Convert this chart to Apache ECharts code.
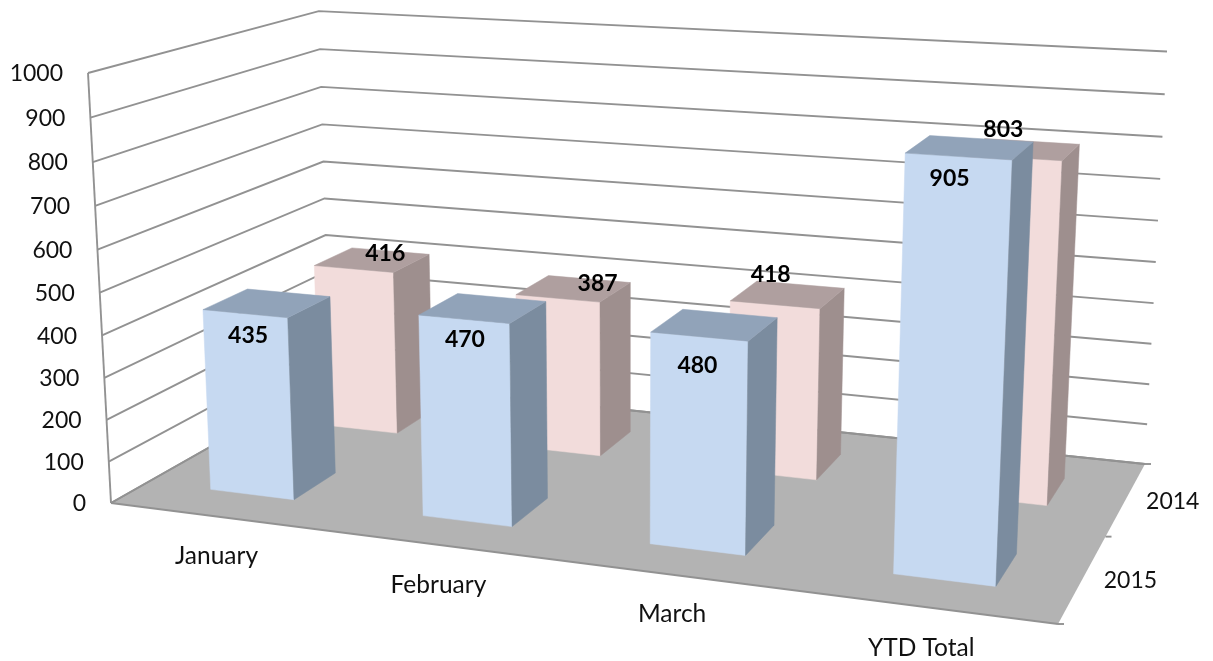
<!DOCTYPE html>
<html><head><meta charset="utf-8">
<style>html,body{margin:0;padding:0;background:#fff}#c{width:1213px;height:661px}</style>
<script src="https://cdn.jsdelivr.net/npm/echarts@6/dist/echarts.min.js"></script>
</head><body><div id="c"></div>
<script>
const categories = ['January','February','March','YTD Total'];
const depthNames = ['2015','2014'];
const values2015 = [435,470,480,905];
const values2014 = [416,387,418,803];
const yTicks = [0,100,200,300,400,500,600,700,800,900,1000];

// layout of the 3D box: floor corners in pixels (front-left, front-right, back-right, back-left),
// top of the value axis above the front-left corner, and the vertical perspective term
const FLOOR = [[111,503],[1058,624],[1145,464],[330,379]];
const AXIS_TOP = [88,73];
const VERTICAL_PERSPECTIVE = -0.0426;
const BAR_HALF = 0.2;
const BAR_SHIFT = 0.005;
const SLOT = [[0.15,0.34],[0.65,0.84]];
const FONT = 'Lato, sans-serif';
const LABEL_SIZE = 23;
const CAT_SIZE = 24.5;
const GRID = {left:100,top:100,width:800,height:400};
const COLORS = [
  {front:'#C6D9F1',top:'#91A3B9',side:'#7B8C9F'},
  {front:'#F2DCDB',top:'#AF9F9F',side:'#9E8F8E'}
];
const valueLabelShift = [
  [[-18,33],[-17,31],[-16,41],[-19,31]],
  [[14,-6],[25,-5],[-16,-20],[-18,-20]]
];
const catLabelShift = [[1,40],[3,41],[1,40],[-3,41]];
const depthLabelShift = [[48,1],[47,2]];

// projective map from chart space (u along categories, w into depth, t up the value axis) to pixels
const project = (function(){
  const [[x0,y0],[x1,y1],[x2,y2],[x3,y3]] = FLOOR;
  const dx1=x1-x2,dx2=x3-x2,sx=x0-x1+x2-x3,dy1=y1-y2,dy2=y3-y2,sy=y0-y1+y2-y3;
  const den=dx1*dy2-dx2*dy1;
  const g=(sx*dy2-dx2*sy)/den,h=(dx1*sy-sx*dy1)/den;
  const a=x1-x0+g*x1,b=x3-x0+h*x3,d=y1-y0+g*y1,e=y3-y0+h*y3;
  const i=VERTICAL_PERSPECTIVE;
  const c=AXIS_TOP[0]*(1+i)-x0,f=AXIS_TOP[1]*(1+i)-y0;
  return (u,w,t)=>{const k=g*u+h*w+i*t+1;return [(a*u+b*w+c*t+x0)/k,(d*u+e*w+f*t+y0)/k];};
})();
// normalise through the chart's own scales
function toU(px){return (px-GRID.left)/GRID.width;}
function toT(py){return (GRID.top+GRID.height-py)/GRID.height;}

function face(points,fill){
  return {type:'polygon',shape:{points},style:{fill,stroke:fill,lineWidth:0.5}};
}
function barRenderer(s){
  return function(params,api){
    const idx=api.value(0);
    const c=api.coord([idx,api.value(1)]);
    const uc=toU(c[0])+BAR_SHIFT/categories.length,t=toT(c[1]);
    const u0=uc-BAR_HALF/categories.length,u1=uc+BAR_HALF/categories.length;
    const [w0,w1]=SLOT[s];
    const col=COLORS[s];
    return {type:'group',children:[
      face([project(u0,w0,0),project(u1,w0,0),project(u1,w0,t),project(u0,w0,t)],col.front),
      face([project(u1,w0,0),project(u1,w1,0),project(u1,w1,t),project(u1,w0,t)],col.side),
      face([project(u0,w0,t),project(u1,w0,t),project(u1,w1,t),project(u0,w1,t)],col.top)
    ]};
  };
}
function labelRenderer(s){
  return function(params,api){
    const idx=api.value(0),v=api.value(1);
    const c=api.coord([idx,v]);
    const uc=toU(c[0]),t=toT(c[1]);
    const p=project(uc,(SLOT[s][0]+SLOT[s][1])/2,t);
    const sh=valueLabelShift[s][idx];
    return {type:'text',style:{text:String(v),x:p[0]+sh[0],y:p[1]+sh[1],align:'center',verticalAlign:'middle',
      font:'bold '+LABEL_SIZE+'px '+FONT,fill:'#000'}};
  };
}
const LINE='#929292';
function gridRenderer(params,api){
  const v=api.value(0);
  const t=toT(api.coord([0,v])[1]);
  const a=project(0,0,t),b=project(0,1,t),c=project(1,1,t);
  return {type:'group',children:[
    {type:'polyline',shape:{points:[a,b,c]},style:{fill:null,stroke:LINE,lineWidth:1.9}},
    {type:'text',style:{text:String(v),x:a[0]-25,y:a[1]+1,align:'right',verticalAlign:'middle',
      font:LABEL_SIZE+'px '+FONT,fill:'#111'}}
  ]};
}
function floorRenderer(params,api){
  const p00=project(0,0,0),p10=project(1,0,0),p11=project(1,1,0),p01=project(0,1,0);
  const axisTop=project(0,0,1),mid=project(1,0.5,0);
  const seg=(a,b)=>({type:'line',shape:{x1:a[0],y1:a[1],x2:b[0],y2:b[1]},style:{stroke:LINE,lineWidth:1.9}});
  return {type:'group',children:[
    {type:'polygon',shape:{points:[p00,p10,p11,p01]},style:{fill:'#B3B3B3'}},
    seg(p00,p10),seg(p00,p01),seg(p01,p11),seg(p00,axisTop),
    seg(p11,[p11[0]+6,p11[1]]),seg(mid,[mid[0]+6,mid[1]]),seg(p10,[p10[0]+6,p10[1]])
  ]};
}
function catLabelRenderer(params,api){
  const idx=api.value(0);
  const c=api.coord([idx,0]);
  const p=project(toU(c[0]),0,0);
  const sh=catLabelShift[idx];
  return {type:'text',style:{text:categories[idx],x:p[0]+sh[0],y:p[1]+sh[1],align:'center',verticalAlign:'middle',
    font:CAT_SIZE+'px '+FONT,fill:'#111'}};
}
function depthLabelRenderer(params,api){
  const idx=api.value(0);
  const p=project(1,(SLOT[idx][0]+SLOT[idx][1])/2,0);
  const sh=depthLabelShift[idx];
  return {type:'text',style:{text:depthNames[idx],x:p[0]+sh[0],y:p[1]+sh[1],align:'center',verticalAlign:'middle',
    font:LABEL_SIZE+'px '+FONT,fill:'#111'}};
}
const idxData=a=>a.map((v,i)=>[i,v]);
const common={type:'custom',coordinateSystem:'cartesian2d',clip:false,silent:true};
const chart=echarts.init(document.getElementById('c'),null,{renderer:'canvas'});
chart.setOption({
  animation:false,
  backgroundColor:'#fff',
  grid:GRID,
  xAxis:{type:'category',data:categories,show:false},
  yAxis:{type:'value',min:0,max:1000,interval:100,show:false},
  series:[
    {...common,name:'floor',data:[[0]],renderItem:floorRenderer,z:1,encode:{x:0}},
    {...common,name:'grid',data:yTicks.map(v=>[v]),renderItem:gridRenderer,z:2,encode:{y:0}},
    {...common,name:'2014',data:idxData(values2014),renderItem:barRenderer(1),z:3,encode:{x:0,y:1}},
    {...common,name:'2015',data:idxData(values2015),renderItem:barRenderer(0),z:4,encode:{x:0,y:1}},
    {...common,name:'2014 labels',data:idxData(values2014),renderItem:labelRenderer(1),z:5,encode:{x:0,y:1}},
    {...common,name:'2015 labels',data:idxData(values2015),renderItem:labelRenderer(0),z:5,encode:{x:0,y:1}},
    {...common,name:'categories',data:categories.map((c,i)=>[i]),renderItem:catLabelRenderer,z:5,encode:{x:0}},
    {...common,name:'depth',data:depthNames.map((c,i)=>[i]),renderItem:depthLabelRenderer,z:5}
  ]
});
</script></body></html>
